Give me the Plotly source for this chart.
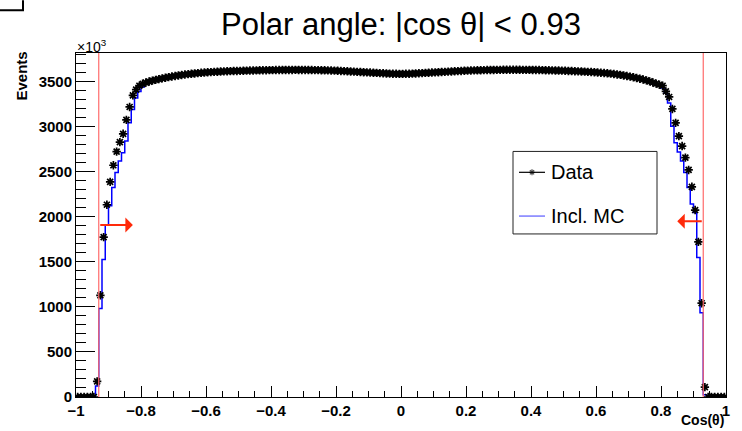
import numpy as np
import plotly.graph_objects as go

# ---------------- data ----------------
bin_lo, bin_hi, n_bins = -1.0, 1.0, 200

data_events = [
    0, 0, 0, 0, 0, 0, 173, 1129, 1774, 2134,
    2388, 2572, 2723, 2829, 2921, 3076, 3219, 3348, 3411, 3455,
    3476, 3490, 3501, 3511, 3520, 3528, 3536, 3543, 3550, 3557,
    3563, 3569, 3574, 3579, 3583, 3587, 3591, 3595, 3598, 3601,
    3604, 3606, 3608, 3610, 3612, 3614, 3615, 3617, 3618, 3619,
    3620, 3621, 3622, 3623, 3624, 3625, 3626, 3627, 3627, 3628,
    3628, 3629, 3629, 3630, 3630, 3630, 3630, 3631, 3630, 3630,
    3630, 3629, 3629, 3628, 3628, 3627, 3626, 3625, 3624, 3622,
    3621, 3619, 3617, 3615, 3613, 3611, 3609, 3607, 3605, 3603,
    3601, 3599, 3597, 3595, 3593, 3591, 3589, 3588, 3587, 3586,
    3586, 3587, 3588, 3589, 3591, 3593, 3595, 3597, 3599, 3601,
    3603, 3605, 3607, 3609, 3611, 3613, 3615, 3617, 3619, 3621,
    3622, 3624, 3625, 3626, 3627, 3628, 3629, 3630, 3630, 3631,
    3631, 3632, 3632, 3632, 3632, 3632, 3632, 3631, 3631, 3631,
    3630, 3630, 3629, 3628, 3627, 3626, 3625, 3624, 3623, 3622,
    3621, 3619, 3618, 3616, 3614, 3613, 3611, 3609, 3607, 3605,
    3602, 3599, 3596, 3593, 3589, 3585, 3580, 3575, 3569, 3563,
    3556, 3549, 3541, 3533, 3524, 3514, 3503, 3491, 3478, 3466,
    3455, 3392, 3330, 3197, 3043, 2895, 2785, 2657, 2520, 2333,
    2075, 1722, 1041, 110, 0, 0, 0, 0, 0, 0,
]

mc_events = [
    0, 0, 0, 0, 0, 0, 121, 982, 1527, 1909,
    2123, 2325, 2491, 2620, 2712, 2840, 3043, 3190, 3319, 3392,
    3440, 3470, 3492, 3508, 3522, 3534, 3545, 3554, 3562, 3570,
    3577, 3583, 3588, 3593, 3597, 3601, 3605, 3609, 3612, 3615,
    3618, 3620, 3622, 3624, 3626, 3628, 3630, 3632, 3633, 3634,
    3635, 3636, 3637, 3638, 3639, 3640, 3641, 3642, 3642, 3643,
    3643, 3644, 3644, 3645, 3645, 3645, 3646, 3646, 3645, 3645,
    3645, 3644, 3644, 3643, 3642, 3641, 3640, 3638, 3636, 3633,
    3630, 3626, 3621, 3615, 3609, 3603, 3599, 3597, 3596, 3597,
    3599, 3601, 3602, 3600, 3597, 3594, 3591, 3589, 3588, 3588,
    3588, 3589, 3591, 3594, 3597, 3600, 3602, 3601, 3599, 3597,
    3596, 3597, 3599, 3603, 3609, 3615, 3621, 3626, 3630, 3633,
    3636, 3638, 3640, 3641, 3642, 3643, 3644, 3645, 3645, 3646,
    3646, 3647, 3647, 3647, 3647, 3647, 3647, 3646, 3646, 3646,
    3645, 3645, 3644, 3643, 3642, 3641, 3640, 3639, 3638, 3637,
    3635, 3634, 3632, 3630, 3628, 3626, 3624, 3621, 3618, 3615,
    3612, 3608, 3604, 3600, 3595, 3590, 3584, 3578, 3571, 3564,
    3556, 3547, 3538, 3528, 3517, 3505, 3492, 3478, 3463, 3448,
    3430, 3370, 3263, 3006, 2822, 2719, 2620, 2491, 2325, 2141,
    2049, 1549, 935, 25, 0, 0, 0, 0, 0, 0,
]

cut_value = 0.93
arrow_level_left = 1910
arrow_level_right = 1950
arrow_tip_left = -0.825
arrow_tip_right = 0.850
y_max = 3818

title_text = "Polar angle: |cos θ| < 0.93"
x_title = "Cos(θ)"
y_title = "Events"
legend_labels = ["Data", "Incl. MC"]

# ---------------- geometry helpers (pixels -> paper) ----------------
W, H = 742, 431
ML, MR, MT, MB = 76, 16, 53, 32
PW, PH = W - ML - MR, H - MT - MB


def px(xp):
    return (xp - ML) / PW


def py(yp):
    return (H - MB - yp) / PH


FONT = "Liberation Sans, Arial, Helvetica, sans-serif"

edges = np.linspace(bin_lo, bin_hi, n_bins + 1)
centers = 0.5 * (edges[:-1] + edges[1:])

fig = go.Figure()

# MC histogram (step)
fig.add_trace(go.Scatter(
    x=edges, y=list(mc_events) + [mc_events[-1]],
    mode="lines", line=dict(color="#0000ff", width=1.5, shape="hv"),
    showlegend=False, hoverinfo="skip",
))

# Data points
fig.add_trace(go.Scatter(
    x=centers, y=data_events, mode="markers",
    marker=dict(symbol="asterisk-open", size=7, color="black",
                line=dict(color="black", width=1.7)),
    showlegend=False,
))

# Legend (manual, on hidden overlay axes that match paper coords)
fig.add_trace(go.Scatter(
    x=[px(519), px(532), px(545)], y=[py(173)] * 3,
    mode="lines+markers", xaxis="x2", yaxis="y2",
    line=dict(color="black", width=1.2),
    marker=dict(symbol="asterisk-open", size=[0, 5, 0], color="black",
                line=dict(color="black", width=1.2)),
    showlegend=False, hoverinfo="skip",
))
fig.add_trace(go.Scatter(
    x=[px(519), px(545)], y=[py(217)] * 2,
    mode="lines", xaxis="x2", yaxis="y2",
    line=dict(color="#3a3aff", width=1),
    showlegend=False, hoverinfo="skip",
))

shapes = []
# cut lines
for xc in (-cut_value, cut_value):
    shapes.append(dict(type="line", xref="x", yref="paper", x0=xc, x1=xc, y0=0, y1=1,
                       line=dict(color="#ff6a6a", width=1.2), layer="above"))
# legend box
shapes.append(dict(type="rect", xref="paper", yref="paper",
                   x0=px(513), x1=px(657), y0=py(235), y1=py(152),
                   line=dict(color="#222222", width=1), fillcolor="white", layer="below"))
# top-left corner fragment
shapes.append(dict(type="path", xref="paper", yref="paper",
                   path=f"M {px(0)},{py(10)} L {px(23)},{py(10)} L {px(23)},{py(0)}",
                   line=dict(color="black", width=2)))

annotations = [
    dict(text=title_text, x=0.5, y=py(24), xref="paper", yref="paper",
         xanchor="center", yanchor="middle", showarrow=False,
         font=dict(family=FONT, size=31, color="black")),
    dict(text="×10<sup>3</sup>", x=px(75), y=py(57), xref="paper", yref="paper",
         xanchor="left", yanchor="bottom", showarrow=False,
         font=dict(family=FONT, size=14, color="black")),
    dict(text=y_title, x=px(22), y=py(50), xref="paper", yref="paper", textangle=-90,
         xanchor="center", yanchor="top", showarrow=False,
         font=dict(family=FONT, size=15, color="black", weight="bold")),
    dict(text=x_title, x=1, y=py(432), xref="paper", yref="paper",
         xanchor="right", yanchor="bottom", showarrow=False,
         font=dict(family=FONT, size=14, color="black", weight="bold")),
    dict(text=legend_labels[0], x=px(549), y=py(173), xref="paper", yref="paper",
         xanchor="left", yanchor="middle", showarrow=False,
         font=dict(family=FONT, size=20, color="black")),
    dict(text=legend_labels[1], x=px(549), y=py(217), xref="paper", yref="paper",
         xanchor="left", yanchor="middle", showarrow=False,
         font=dict(family=FONT, size=20, color="black")),
    # cut arrows
    dict(x=arrow_tip_left, y=arrow_level_left, ax=-cut_value, ay=arrow_level_left,
         xref="x", yref="y", axref="x", ayref="y", text="", showarrow=True,
         arrowhead=1, arrowsize=1.25, arrowwidth=2, arrowcolor="#ff2a0a"),
    dict(x=arrow_tip_right, y=arrow_level_right, ax=cut_value, ay=arrow_level_right,
         xref="x", yref="y", axref="x", ayref="y", text="", showarrow=True,
         arrowhead=1, arrowsize=1.25, arrowwidth=2, arrowcolor="#ff2a0a"),
]

fig.update_layout(
    width=W, height=H,
    margin=dict(l=ML, r=MR, t=MT, b=MB, pad=0),
    paper_bgcolor="white", plot_bgcolor="white",
    showlegend=False,
    shapes=shapes, annotations=annotations,
    xaxis=dict(
        range=[bin_lo, bin_hi], tickmode="linear", tick0=-1, dtick=0.2,
        ticks="inside", ticklen=11, tickwidth=1, tickcolor="black",
        minor=dict(dtick=0.05, tick0=-1, ticks="inside", ticklen=6, tickcolor="black", tickwidth=1),
        showline=True, linecolor="black", linewidth=1, mirror=True,
        showgrid=False, zeroline=False,
        tickfont=dict(family=FONT, size=15, color="black", weight="bold"),
    ),
    yaxis=dict(
        range=[0, y_max], tickmode="linear", tick0=0, dtick=500,
        ticks="inside", ticklen=19, tickwidth=1, tickcolor="black",
        minor=dict(dtick=100, tick0=0, ticks="inside", ticklen=10, tickcolor="black", tickwidth=1),
        showline=True, linecolor="black", linewidth=1, mirror=True,
        showgrid=False, zeroline=False,
        tickfont=dict(family=FONT, size=15, color="black", weight="bold"),
    ),
    xaxis2=dict(domain=[0, 1], range=[0, 1], visible=False, overlaying="x", anchor="y2"),
    yaxis2=dict(domain=[0, 1], range=[0, 1], visible=False, overlaying="y", anchor="x2"),
)

fig.write_html("out.html")
